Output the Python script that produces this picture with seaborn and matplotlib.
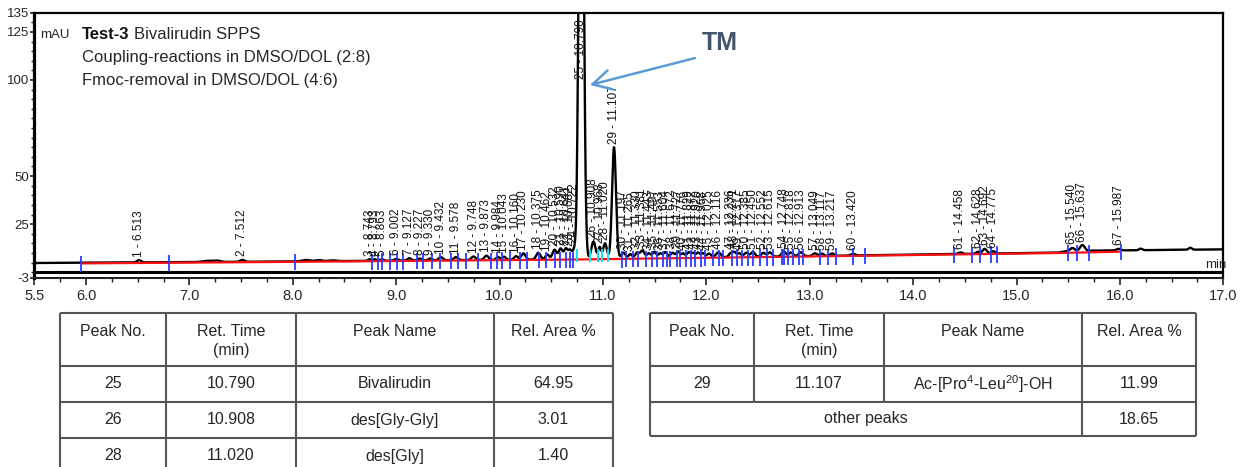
import numpy as np
import matplotlib
matplotlib.use("Agg")
import matplotlib.pyplot as plt
from matplotlib.ticker import FixedLocator, MultipleLocator, FixedFormatter
import seaborn as sns

# ---------------- chromatogram peaks ----------------
peak_no = list(range(1, 68))
peak_rt = [6.513, 7.512, 8.743, 8.793, 8.863, 9.002, 9.127, 9.227, 9.330, 9.432,
           9.578, 9.748, 9.873, 9.984, 10.043, 10.160, 10.230, 10.375, 10.462, 10.532,
           10.590, 10.641, 10.682, 10.722, 10.790, 10.908, 10.968, 11.020, 11.107, 11.197,
           11.265, 11.330, 11.381, 11.443, 11.497, 11.553, 11.604, 11.672, 11.727, 11.776,
           11.829, 11.872, 11.920, 11.968, 12.025, 12.116, 12.236, 12.271, 12.317, 12.385,
           12.450, 12.552, 12.615, 12.748, 12.818, 12.913, 13.049, 13.117, 13.217, 13.420,
           14.458, 14.628, 14.692, 14.775, 15.540, 15.637, 15.987]
peak_height = [1.2, 1.0, 0.8, 0.8, 0.8, 0.9, 1.2, 1.0, 1.0, 1.6,
               1.6, 1.8, 2.2, 1.5, 1.6, 1.8, 3.2, 3.5, 2.5, 5.0,
               5.5, 5.5, 4.5, 4.5, 330.0, 9.0, 6.0, 8.0, 58.0, 3.0,
               2.2, 3.0, 4.0, 2.5, 3.2, 2.4, 3.0, 2.6, 3.2, 2.2,
               2.8, 2.3, 2.6, 2.2, 2.0, 2.6, 2.0, 2.4, 2.0, 2.2,
               2.5, 2.0, 2.2, 2.6, 2.0, 2.0, 1.4, 1.2, 1.2, 0.9,
               0.8, 1.0, 2.5, 1.2, 1.5, 3.0, 0.8]
peak_sigma = [0.020, 0.020, 0.015, 0.015, 0.015, 0.018, 0.018, 0.018, 0.018, 0.020,
              0.020, 0.020, 0.020, 0.016, 0.016, 0.018, 0.020, 0.020, 0.018, 0.020,
              0.018, 0.018, 0.016, 0.016, 0.021, 0.020, 0.014, 0.018, 0.019, 0.020,
              0.018, 0.018, 0.020, 0.018, 0.018, 0.018, 0.018, 0.020, 0.018, 0.016,
              0.018, 0.016, 0.018, 0.016, 0.020, 0.022, 0.018, 0.016, 0.018, 0.020,
              0.020, 0.020, 0.020, 0.020, 0.020, 0.022, 0.020, 0.018, 0.020, 0.020,
              0.020, 0.018, 0.020, 0.018, 0.020, 0.022, 0.020]

# low unlabeled humps of the trace
hump_t = [7.18, 7.27, 8.13, 8.25, 8.38, 16.20, 16.68]
hump_h = [0.6, 0.6, 0.7, 0.6, 0.4, 0.8, 1.0]
hump_sigma = [0.05, 0.03, 0.04, 0.03, 0.04, 0.015, 0.015]

# detector drift (signal floor) and integration baseline
drift_t = [5.5, 8.0, 10.7, 13.0, 15.40, 15.50, 17.0]
drift_y = [4.8, 5.6, 6.8, 8.4, 10.2, 11.1, 11.9]
base_t = [5.955, 8.0, 10.7, 13.0, 15.4, 16.007]
base_y = [4.6, 5.4, 6.6, 8.2, 10.0, 10.7]

# peak delimiters
delim_blue = [5.955, 6.800, 8.020,
              8.763, 8.821, 8.866, 8.940, 9.011, 9.070, 9.198, 9.256, 9.349, 9.424,
              9.530, 9.601, 9.675, 9.794, 9.917, 9.978, 10.026, 10.100, 10.197, 10.262,
              10.384, 10.446, 10.536, 10.585, 10.639, 10.681, 10.713,
              11.181, 11.222, 11.293, 11.341, 11.416, 11.471, 11.519, 11.583, 11.622,
              11.648, 11.713, 11.745, 11.803, 11.851, 11.890, 11.948, 11.986, 12.067,
              12.125, 12.163, 12.250, 12.293, 12.341, 12.405, 12.454, 12.518, 12.583,
              12.647, 12.728, 12.751, 12.792, 12.840, 12.898, 12.937, 13.099, 13.179,
              13.253, 13.421, 13.534,
              14.400, 14.572, 14.646, 14.752, 14.808, 15.500, 15.581, 15.700, 16.007]
delim_cyan = [10.746, 10.870, 10.955, 10.990, 11.050]

# axis ticks
x_major = [5.5, 6.0, 7.0, 8.0, 9.0, 10.0, 11.0, 12.0, 13.0, 14.0, 15.0, 16.0, 17.0]
y_major = [-3, 25, 50, 100, 125, 135]

# result tables
left_header = ["Peak No.", "Ret. Time\n(min)", "Peak Name", "Rel. Area %"]
left_no = [25, 26, 28]
left_rt = [10.790, 10.908, 11.020]
left_name = ["Bivalirudin", "des[Gly-Gly]", "des[Gly]"]
left_area = [64.95, 3.01, 1.40]
right_no = [29]
right_rt = [11.107]
right_name = [r"Ac-[Pro$^{\mathregular{4}}$-Leu$^{\mathregular{20}}$]-OH"]
right_area = [11.99]
other_label = "other peaks"
other_area = 18.65

# ---------------- style ----------------
sns.set_theme(style="white")
plt.rcParams["font.family"] = ["Liberation Sans", "DejaVu Sans"]
plt.rcParams["mathtext.fontset"] = "custom"
plt.rcParams["mathtext.rm"] = "Liberation Sans"
TXT = "#262626"

W, H = 1244, 467
fig = plt.figure(figsize=(W / 100, H / 100), dpi=100)
fig.patch.set_facecolor("white")


def fx(px):
    return px / W


def fy(py):
    return 1 - py / H


ax_left, ax_right, ax_top, ax_bot = 34.3, 1223.3, 12.7, 278.0
ax = fig.add_axes([fx(ax_left), fy(ax_bot), (ax_right - ax_left) / W, (ax_bot - ax_top) / H])
ax.set_facecolor("white")

# ---------------- trace ----------------
t = np.arange(5.5, 17.0 + 1e-9, 0.002)
sig = np.interp(t, drift_t, drift_y)
for rt, h, s in zip(peak_rt, peak_height, peak_sigma):
    sig = sig + h * np.exp(-0.5 * ((t - rt) / s) ** 2)
for rt, h, s in zip(hump_t, hump_h, hump_sigma):
    sig = sig + h * np.exp(-0.5 * ((t - rt) / s) ** 2)

sns.lineplot(x=t, y=sig, color="black", lw=1.7, ax=ax, estimator=None,
             errorbar=None, sort=False, zorder=2)
ax.plot(base_t, base_y, color="#ff1010", lw=1.6, zorder=3, solid_capstyle="butt")

bl = np.interp(delim_blue, base_t, base_y)
ax.vlines(delim_blue, bl - 4.5, bl + 4.0, color="#2b3dff", lw=1.3, zorder=4)
bc = np.interp(delim_cyan, base_t, base_y)
ax.vlines(delim_cyan, bc - 1.5, bc + 5.5, color="#19e0f0", lw=1.4, zorder=4)

# frame line at zero
ax.axhline(0, color="black", lw=2.2, zorder=1)

ax.set_xlim(5.5, 17.0)
ax.set_ylim(-3, 135)

# peak labels
for no, rt in zip(peak_no, peak_rt):
    lab = f"{no} - {rt:.3f}"
    yv = float(np.interp(rt, t, sig))
    if yv > 133:
        ax.text(rt, 131.5, lab, rotation=90, ha="center", va="top",
                fontsize=8.5, color="#111111", zorder=5)
    else:
        ax.annotate(lab, (rt, yv), xytext=(0, 2.5), textcoords="offset points",
                    rotation=90, ha="center", va="bottom", fontsize=8.5,
                    color="#111111", zorder=5, annotation_clip=False)

# axes styling
for side in ["top", "right"]:
    ax.spines[side].set_visible(True)
    ax.spines[side].set_linewidth(1.6)
    ax.spines[side].set_color("black")
ax.spines["left"].set_linewidth(2.3)
ax.spines["left"].set_color("black")
ax.spines["bottom"].set_linewidth(1.5)
ax.spines["bottom"].set_color("#222222")

ax.xaxis.set_major_locator(FixedLocator(x_major))
ax.xaxis.set_major_formatter(FixedFormatter([f"{v:.1f}" for v in x_major]))
ax.xaxis.set_minor_locator(MultipleLocator(0.25))
ax.yaxis.set_major_locator(FixedLocator(y_major))
ax.yaxis.set_major_formatter(FixedFormatter([str(v) for v in y_major]))
ax.yaxis.set_minor_locator(MultipleLocator(5))
ax.tick_params(axis="x", which="major", direction="out", length=5, width=1.2,
               pad=3, labelsize=10.5, labelcolor=TXT, color="#222222", bottom=True)
ax.tick_params(axis="x", which="minor", direction="out", length=3, width=1.0,
               color="#222222", bottom=True)
ax.tick_params(axis="y", which="major", direction="out", length=3, width=1.2,
               pad=0.5, labelsize=9.5, labelcolor=TXT, color="#222222", left=True)
ax.tick_params(axis="y", which="minor", direction="out", length=2, width=1.0,
               color="#222222", left=True)
ax.set_xlabel("")
ax.set_ylabel("")
ax.grid(False)

ax.text(1.003, 0.05, "min", transform=ax.transAxes, ha="right", va="center",
        fontsize=9.5, color=TXT)

# TM annotation
ax.annotate("", xy=(10.874, 97.4), xytext=(11.889, 111.4),
            arrowprops=dict(arrowstyle="->,head_length=0.65,head_width=0.35",
                            color="#5B9BD5", lw=1.8, mutation_scale=20,
                            shrinkA=0, shrinkB=0), zorder=6)
ax.text(12.131, 119.2, "TM", fontsize=18, fontweight="bold", color="#44546A",
        ha="center", va="center", zorder=6)

# sample description
fig.text(fx(40), fy(38.5), "mAU", fontsize=9.5, color=TXT, va="baseline")
t1 = fig.text(fx(82), fy(39.3), "Test-3", fontsize=12, fontweight="bold",
              color="#111111", va="baseline")
fig.canvas.draw()
bb = t1.get_window_extent()
fig.text(bb.x1 / fig.bbox.width + fx(4), fy(39.3), "Bivalirudin SPPS", fontsize=12,
         color=TXT, va="baseline")
fig.text(fx(82), fy(62.3), "Coupling-reactions in DMSO/DOL (2:8)", fontsize=12,
         color=TXT, va="baseline")
fig.text(fx(82), fy(85.3), "Fmoc-removal in DMSO/DOL (4:6)", fontsize=12,
         color=TXT, va="baseline")

# ---------------- tables ----------------
tax = fig.add_axes([0, 0, 1, 1], zorder=-1)
tax.set_xlim(0, W)
tax.set_ylim(H, 0)
tax.axis("off")

GRID = "#555555"
TFS = 11.5


def grid(cols, rows, skip_v=None):
    for y in rows:
        tax.plot([cols[0], cols[-1]], [y, y], color=GRID, lw=1.5, solid_capstyle="butt")
    for x in cols:
        tax.plot([x, x], [rows[0], rows[-1]], color=GRID, lw=1.5, solid_capstyle="butt")
    if skip_v:
        for (x, y0, y1) in skip_v:
            tax.plot([x, x], [y0, y1], color="white", lw=2.8, solid_capstyle="butt")


def cell(x0, x1, y, s):
    tax.text((x0 + x1) / 2, y, s, ha="center", va="center", fontsize=TFS, color=TXT)


def header(cols, top):
    for i, h in enumerate(left_header):
        for j, ln in enumerate(h.split("\n")):
            cell(cols[i], cols[i + 1], top + 18 + 20 * j, ln)


# left table
lc = [60, 166, 296, 494, 613]
lr = [313, 366, 402, 438, 474]
grid(lc, lr)
header(lc, lr[0])
for k, (no, rt, nm, ar) in enumerate(zip(left_no, left_rt, left_name, left_area)):
    yc = (lr[k + 1] + lr[k + 2]) / 2
    cell(lc[0], lc[1], yc, f"{no}")
    cell(lc[1], lc[2], yc, f"{rt:.3f}")
    cell(lc[2], lc[3], yc, nm)
    cell(lc[3], lc[4], yc, f"{ar:.2f}")

# right table
rc = [650, 754, 884, 1082, 1196]
rr = [313, 366, 402, 436]
grid(rc, rr, skip_v=[(rc[1], rr[2] + 1, rr[3] - 1), (rc[2], rr[2] + 1, rr[3] - 1)])
header(rc, rr[0])
for k, (no, rt, nm, ar) in enumerate(zip(right_no, right_rt, right_name, right_area)):
    yc = (rr[k + 1] + rr[k + 2]) / 2
    cell(rc[0], rc[1], yc, f"{no}")
    cell(rc[1], rc[2], yc, f"{rt:.3f}")
    cell(rc[2], rc[3], yc, nm)
    cell(rc[3], rc[4], yc, f"{ar:.2f}")
yo = (rr[2] + rr[3]) / 2
cell(rc[0], rc[3], yo, other_label)
cell(rc[3], rc[4], yo, f"{other_area:.2f}")

fig.savefig("out.png", dpi=100, facecolor="white")
